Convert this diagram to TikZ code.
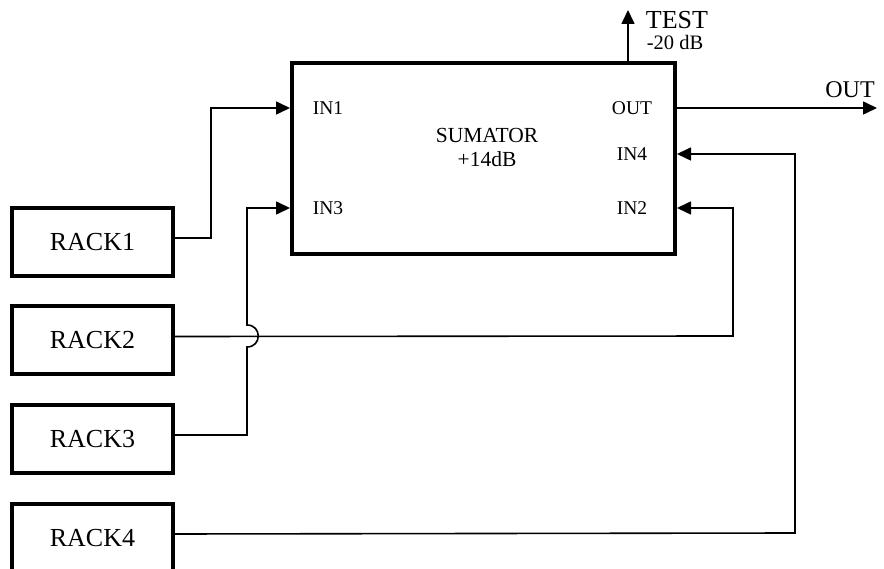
\documentclass[tikz,border=0pt]{standalone}
\usepackage{fontspec}
\setmainfont{Liberation Serif}
\usetikzlibrary{arrows.meta}
\begin{document}
\begin{tikzpicture}[x=1pt,y=-1pt,
  box/.style={draw,line width=4pt,rectangle,inner sep=0pt},
  rackbox/.style={box,minimum width=161pt,minimum height=68pt,font=\fontsize{26}{28}\selectfont},
  portlbl/.style={inner sep=0pt,font=\fontsize{19.5}{21}\selectfont},
  conn/.style={line width=1.6pt},
  arr/.style={conn,-{Triangle[length=14pt,width=13pt]}}]
\useasboundingbox (0,0) rectangle (884,569);
\node[box,minimum width=383pt,minimum height=191pt] (sum) at (483.5,158.5) {};
\node[inner sep=0pt,align=center,font=\fontsize{21.5}{24}\selectfont] (title) at (487,147) {SUMATOR\\+14dB};
\node[portlbl] (in1) at (328,108) {IN1};
\node[portlbl] (in3) at (328,208) {IN3};
\node[portlbl] (out) at (632,108) {OUT};
\node[portlbl] (in4) at (632,154) {IN4};
\node[portlbl] (in2) at (632,208) {IN2};
\node[rackbox] (r1) at (92.5,242) {RACK1};
\node[rackbox] (r2) at (92.5,340.5) {RACK2};
\node[rackbox] (r3) at (92.5,439) {RACK3};
\node[rackbox] (r4) at (92.5,538) {RACK4};
\coordinate (outend) at (877,108);
\coordinate (testend) at (628,10);
\node[inner sep=0pt,font=\fontsize{26}{28}\selectfont] (testlbl) at (677,20) {TEST};
\node[inner sep=0pt,font=\fontsize{20.5}{22}\selectfont] (dblbl) at (675,42) {-20 dB};
\node[inner sep=0pt,font=\fontsize{24}{26}\selectfont] (outlbl) at (850,90) {OUT};
% connectors
\draw[arr] (sum.north -| testend) -- (testend);
\draw[arr] (sum.east |- out) -- (outend);
\draw[arr] ([yshift=4pt]r1.east) -- ++(36,0) |- (sum.west |- in1);
\draw[arr] ([yshift=4pt]r2.east) -- (733,336) |- (sum.east |- in2);
\draw[arr] ([yshift=4pt]r3.east) -- (247,435) -- (247,347)
   .. controls (262,347) and (262,325) .. (247,325) |- (sum.west |- in3);
\draw[arr] ([yshift=4pt]r4.east) -- (795,533) |- (sum.east |- in4);
\end{tikzpicture}
\end{document}
